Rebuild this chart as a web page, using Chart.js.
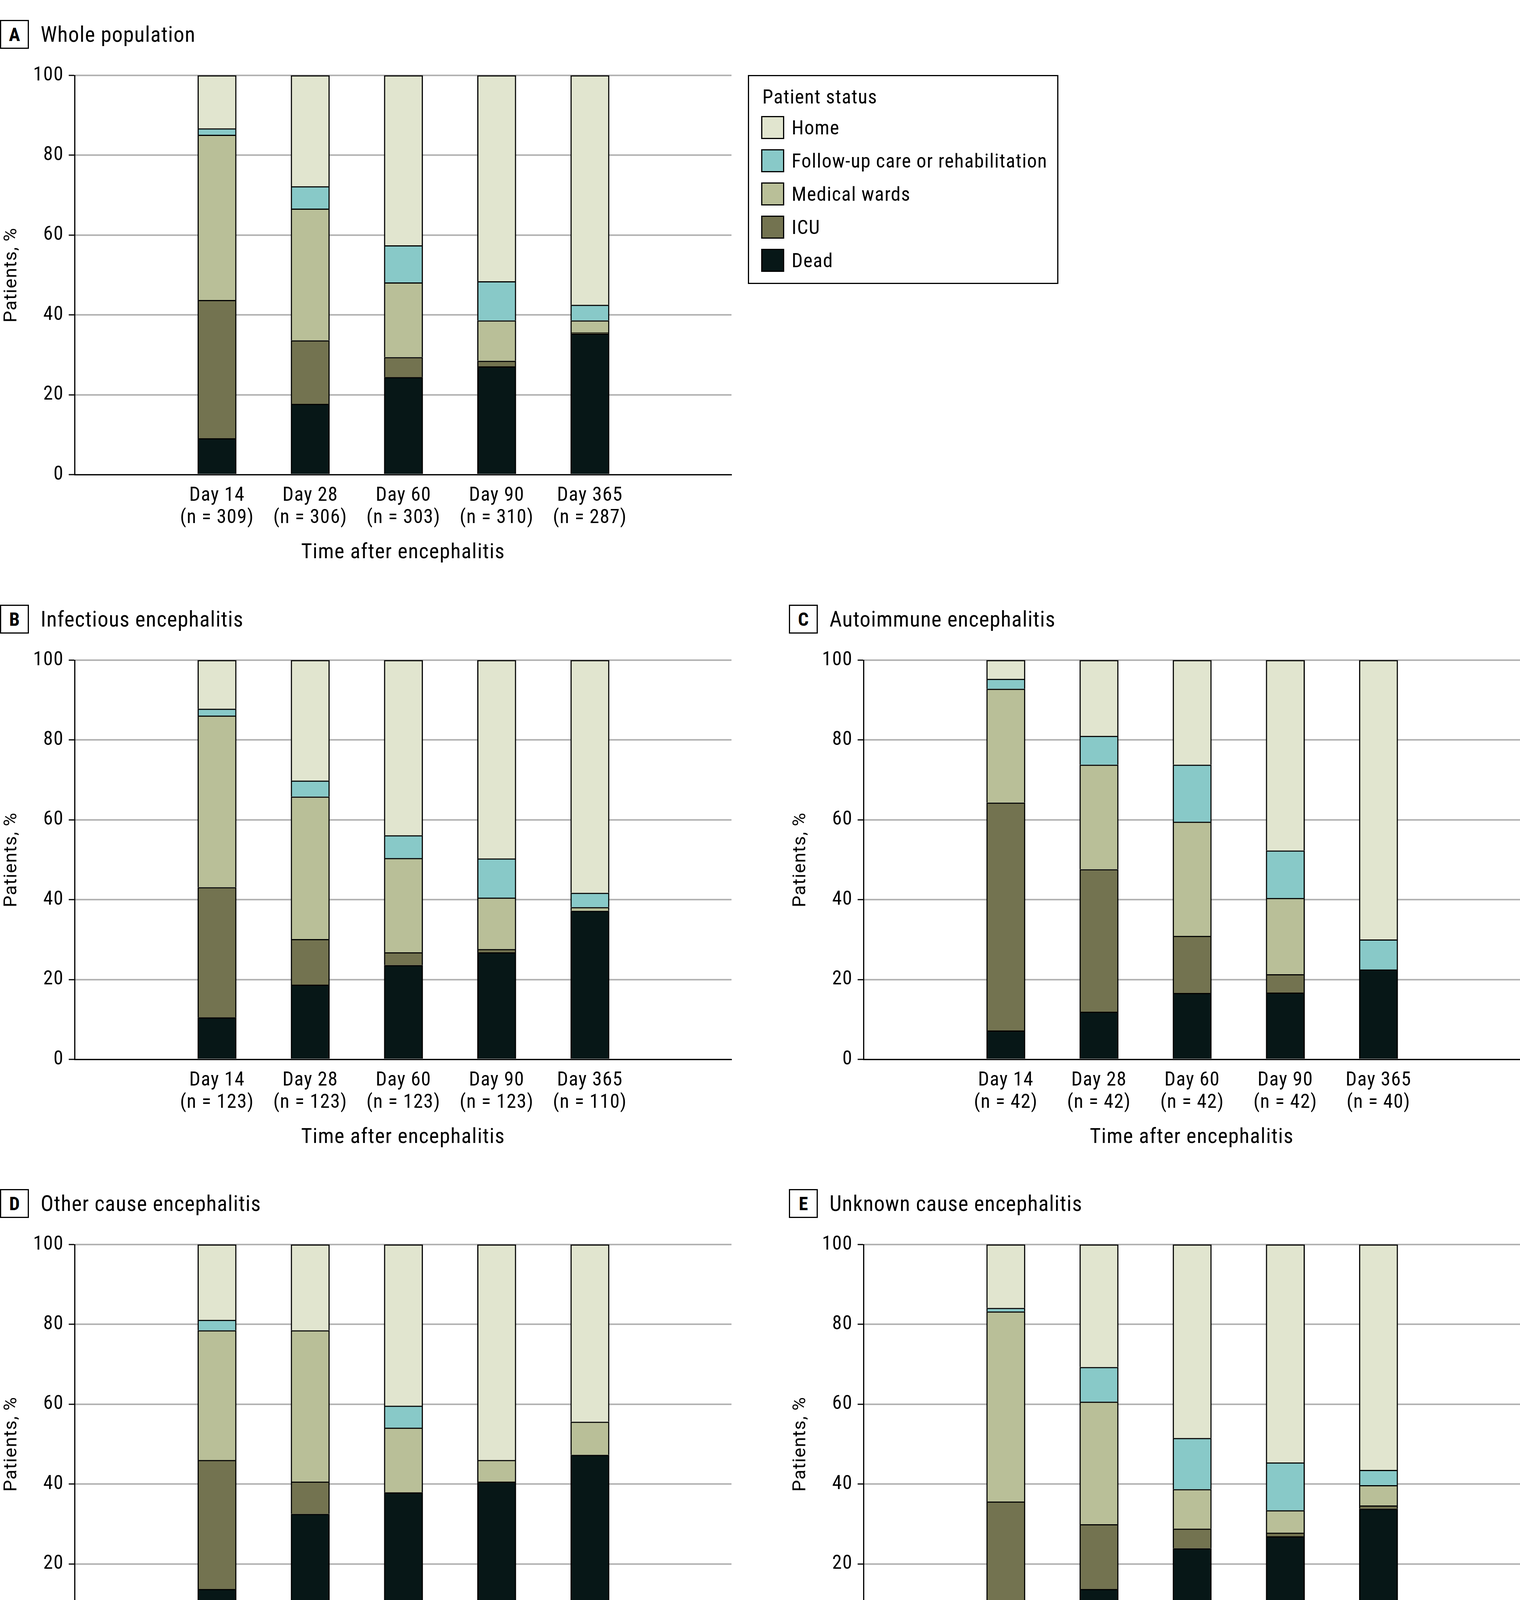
<!DOCTYPE html>
<html lang="en">
<head>
<meta charset="UTF-8">
<title>Patient status after encephalitis</title>
<script src="https://cdn.jsdelivr.net/npm/chart.js"></script>
<style>
  body { margin: 0; background: #fff; }
  #page { position: relative; width: 3892px; height: 4467px; background: #fff;
          font-family: "Roboto Condensed", "Liberation Sans Narrow", "DejaVu Sans Condensed", sans-serif; color: #000; }
  .panel { position: absolute; }
  .panel canvas { position: absolute; left: 0; top: 150px; }
  .head { position: absolute; left: 0; top: 51px; height: 74px; display: flex; align-items: center; white-space: nowrap; }
  .letter { box-sizing: border-box; width: 74px; height: 74px; border: 3px solid #000; font-weight: bold;
            font-size: 48px; display: flex; align-items: center; justify-content: center; }
  .ptitle { margin-left: 30px; font-size: 55px; letter-spacing: 1.2px; }
  #legend { position: absolute; left: 1915px; top: 192px; width: 795px; height: 535px; box-sizing: border-box;
            border: 3px solid #000; }
  #legend .ltitle { position: absolute; left: 34px; top: 24px; font-size: 50px; letter-spacing: 1.4px; }
  #legend .item { position: absolute; left: 31px; height: 59px; display: flex; align-items: center; white-space: nowrap;
                  font-size: 50px; letter-spacing: 1.4px; }
  #legend .sw { box-sizing: border-box; width: 59px; height: 59px; border: 3px solid #000; margin-right: 19px; }
</style>
</head>
<body>
<div id="page"></div>
<script>
// categories and legend
const days = ['Day 14', 'Day 28', 'Day 60', 'Day 90', 'Day 365'];
const statusLabels = ['Dead', 'ICU', 'Medical wards', 'Follow-up care or rehabilitation', 'Home'];
const statusColors = ['#071717', '#737350', '#b9bf98', '#88c9c8', '#e1e5cf'];

// A - whole population (% of patients)
const nWhole = [309, 306, 303, 310, 287];
const deadWhole = [9.1, 17.7, 24.4, 27.1, 35.3];
const icuWhole = [34.6, 15.9, 5.0, 1.4, 0.3];
const wardsWhole = [41.4, 33.0, 18.7, 10.1, 3.0];
const followWhole = [1.6, 5.6, 9.3, 9.8, 3.9];
const homeWhole = [13.3, 27.8, 42.6, 51.6, 57.5];

// B - infectious
const nInf = [123, 123, 123, 123, 110];
const deadInf = [10.5, 18.7, 23.6, 26.8, 37.2];
const icuInf = [32.6, 11.4, 3.2, 0.8, 0];
const wardsInf = [43.0, 35.7, 23.6, 12.9, 0.9];
const followInf = [1.7, 4.0, 5.7, 9.8, 3.6];
const homeInf = [12.2, 30.2, 43.9, 49.7, 58.3];

// C - autoimmune
const nAuto = [42, 42, 42, 42, 40];
const deadAuto = [7.2, 11.9, 16.6, 16.7, 22.5];
const icuAuto = [57.1, 35.7, 14.3, 4.6, 0];
const wardsAuto = [28.5, 26.2, 28.6, 19.1, 0];
const followAuto = [2.5, 7.2, 14.3, 11.9, 7.5];
const homeAuto = [4.7, 19.0, 26.2, 47.7, 70.0];

// D - other cause
const nOther = [37, 37, 37, 37, 36];
const deadOther = [13.7, 32.5, 37.9, 40.6, 47.3];
const icuOther = [32.3, 8.1, 0, 0, 0];
const wardsOther = [32.5, 37.9, 16.2, 5.4, 8.3];
const followOther = [2.6, 0, 5.5, 0, 0];
const homeOther = [18.9, 21.5, 40.4, 54.0, 44.4];

// E - unknown cause
const nUnk = [107, 104, 101, 108, 101];
const deadUnk = [6.6, 13.7, 23.9, 26.9, 33.8];
const icuUnk = [29.0, 16.2, 4.9, 0.9, 0.8];
const wardsUnk = [47.6, 30.7, 9.9, 5.6, 5.1];
const followUnk = [0.9, 8.7, 12.8, 12.0, 3.8];
const homeUnk = [15.9, 30.7, 48.5, 54.6, 56.5];

const condensed = '"Roboto Condensed", "Liberation Sans Narrow", "DejaVu Sans Condensed", sans-serif';
const page = document.getElementById('page');

// the figure's font runs a little wider than Roboto Condensed
const spacingPlugin = {
    id: 'spacing',
    beforeDraw(chart) { chart.ctx.letterSpacing = '1.4px'; }
};

function makePanel(letter, title, left, top, width, padRight, n, series) {
    const panel = document.createElement('div');
    panel.className = 'panel';
    panel.style.left = left + 'px';
    panel.style.top = top + 'px';
    panel.style.width = width + 'px';
    panel.style.height = '1460px';
    panel.innerHTML = '<div class="head"><div class="letter">' + letter + '</div><div class="ptitle">' + title + '</div></div>';
    const canvas = document.createElement('canvas');
    canvas.width = width;
    canvas.height = 1300;
    panel.appendChild(canvas);
    page.appendChild(panel);

    new Chart(canvas, {
        type: 'bar',
        data: {
            datasets: series.map((vals, k) => ({
                label: statusLabels[k],
                data: vals.map((v, i) => ({ x: i, y: v })),
                backgroundColor: statusColors[k],
                borderColor: '#000',
                borderWidth: { top: 3, left: 3, right: 3, bottom: 0 },
                borderSkipped: false,
                barThickness: 99
            }))
        },
        plugins: [spacingPlugin],
        options: {
            responsive: false,
            animation: false,
            devicePixelRatio: 1,
            layout: { padding: { top: 42, right: padRight, bottom: 0, left: 0 }, autoPadding: false },
            plugins: { legend: { display: false }, tooltip: { enabled: false } },
            scales: {
                x: {
                    type: 'linear',
                    stacked: true,
                    min: -0.823,
                    max: 4.814,
                    afterBuildTicks: s => { s.ticks = days.map((d, i) => ({ value: i })); },
                    afterFit: s => { s.height = 235; },
                    grid: { display: false, drawTicks: false },
                    border: { display: true, color: '#000', width: 3 },
                    ticks: {
                        color: '#000',
                        font: { family: condensed, size: 50, lineHeight: 1.14 },
                        padding: 26,
                        maxRotation: 0,
                        autoSkip: false,
                        callback: v => [days[v], '(n = ' + n[v] + ')']
                    },
                    title: {
                        display: true,
                        text: 'Time after encephalitis',
                        color: '#000',
                        font: { family: condensed, size: 54, lineHeight: 1.2 },
                        padding: { top: 0, bottom: 2 }
                    }
                },
                y: {
                    stacked: true,
                    min: 0,
                    max: 100,
                    afterFit: s => { s.width = 191; },
                    ticks: { stepSize: 20, color: '#000', font: { family: condensed, size: 50 }, padding: 13 },
                    grid: { color: '#b3b3b3', lineWidth: 4, tickColor: '#000', tickWidth: 3, tickLength: 15 },
                    border: { display: true, color: '#000', width: 3 },
                    title: {
                        display: true,
                        text: 'Patients, %',
                        color: '#000',
                        font: { family: 'Roboto, sans-serif', size: 47, lineHeight: 1.2 },
                        padding: { top: 2, bottom: 0 }
                    }
                }
            }
        }
    });
}

makePanel('A', 'Whole population', 0, 0, 1885, 12, nWhole,
    [deadWhole, icuWhole, wardsWhole, followWhole, homeWhole]);
makePanel('B', 'Infectious encephalitis', 0, 1497, 1885, 12, nInf,
    [deadInf, icuInf, wardsInf, followInf, homeInf]);
makePanel('C', 'Autoimmune encephalitis', 2020, 1497, 1872, 0, nAuto,
    [deadAuto, icuAuto, wardsAuto, followAuto, homeAuto]);
makePanel('D', 'Other cause encephalitis', 0, 2993, 1885, 12, nOther,
    [deadOther, icuOther, wardsOther, followOther, homeOther]);
makePanel('E', 'Unknown cause encephalitis', 2020, 2993, 1872, 0, nUnk,
    [deadUnk, icuUnk, wardsUnk, followUnk, homeUnk]);

// legend, top to bottom: Home ... Dead
const legend = document.createElement('div');
legend.id = 'legend';
let html = '<div class="ltitle">Patient status</div>';
[4, 3, 2, 1, 0].forEach((k, row) => {
    html += '<div class="item" style="top:' + (102 + row * 85) + 'px"><div class="sw" style="background:' +
        statusColors[k] + '"></div>' + statusLabels[k] + '</div>';
});
legend.innerHTML = html;
page.appendChild(legend);
</script>
</body>
</html>
